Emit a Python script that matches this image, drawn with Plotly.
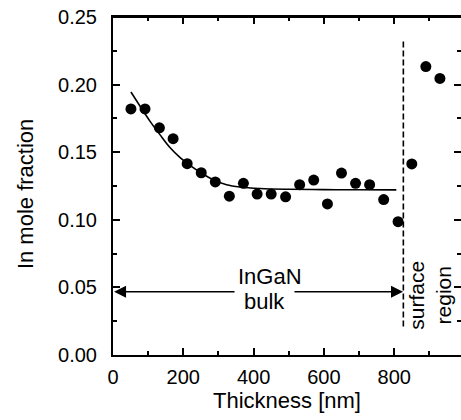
import plotly.graph_objects as go

# Measured points (thickness in nm, In mole fraction)
thickness = [51, 91, 132, 171, 211, 251, 291, 331, 371, 410, 450, 491, 531,
             571, 610, 650, 690, 730, 770, 811, 850, 890, 930]
fraction = [0.182, 0.182, 0.168, 0.160, 0.1415, 0.1348, 0.128, 0.1175, 0.127,
            0.119, 0.119, 0.117, 0.126, 0.1294, 0.1117, 0.1346, 0.127, 0.126,
            0.115, 0.0986, 0.1413, 0.2133, 0.2046]

# Fit curve
fit_x = [51, 77, 105, 134, 162, 191, 220, 250, 285, 323, 361, 418, 500, 600, 700, 806]
fit_y = [0.1945, 0.184, 0.173, 0.1628, 0.1535, 0.146, 0.140, 0.1348, 0.1297,
         0.126, 0.1243, 0.1232, 0.1226, 0.1223, 0.1222, 0.1221]

# Boundary between bulk and surface region
boundary_x = [826, 826]
boundary_y = [0.021, 0.232]

# Arrow geometry (data units)
arrow_y = 0.0468
arrow_left = 3
arrow_gap_left = 350
arrow_gap_right = 512
arrow_right = 825

FONT = "Liberation Sans, Arial, Helvetica, sans-serif"

fig = go.Figure()
fig.add_trace(go.Scatter(x=fit_x, y=fit_y, mode="lines", line=dict(color="black", width=1.6, shape="spline"),
                         showlegend=False, hoverinfo="skip"))
fig.add_trace(go.Scatter(x=boundary_x, y=boundary_y, mode="lines",
                         line=dict(color="black", width=1.6, dash="6px,3px"), showlegend=False))
fig.add_trace(go.Scatter(x=thickness, y=fraction, mode="markers",
                         marker=dict(color="black", size=11), showlegend=False))

# arrows
fig.add_annotation(x=arrow_left, y=arrow_y, ax=arrow_gap_left, ay=arrow_y, xref="x", yref="y",
                   axref="x", ayref="y", text="", showarrow=True, arrowhead=2, arrowsize=1.5,
                   arrowwidth=1.6, arrowcolor="black", standoff=0, startstandoff=0)
fig.add_annotation(x=arrow_right, y=arrow_y, ax=arrow_gap_right, ay=arrow_y, xref="x", yref="y",
                   axref="x", ayref="y", text="", showarrow=True, arrowhead=2, arrowsize=1.5,
                   arrowwidth=1.6, arrowcolor="black", standoff=0, startstandoff=0)
fig.add_annotation(x=447, y=0.0584, text="InGaN", showarrow=False, xref="x", yref="y",
                   font=dict(family=FONT, size=22, color="black"))
fig.add_annotation(x=430, y=0.0395, text="bulk", showarrow=False, xref="x", yref="y",
                   font=dict(family=FONT, size=22, color="black"))
fig.add_annotation(x=901, y=0.0444, text="surface<br>region", showarrow=False, xref="x", yref="y",
                   textangle=-90, font=dict(family=FONT, size=21, color="black"))

# axis titles as paper annotations
fig.add_annotation(x=0.5, y=0, xref="paper", yref="paper", yanchor="middle", yshift=-45,
                   text="Thickness [nm]", showarrow=False,
                   font=dict(family=FONT, size=22, color="black"))
fig.add_annotation(x=0, y=0.476, xref="paper", yref="paper", xanchor="center", xshift=-88,
                   text="In mole fraction", showarrow=False, textangle=-90,
                   font=dict(family=FONT, size=22, color="black"))

# top frame edge
fig.add_shape(type="line", xref="paper", yref="paper", x0=0, x1=1, y0=1, y1=1,
              line=dict(color="black", width=2), layer="above")

axis_common = dict(showline=True, linewidth=2, linecolor="black", mirror="ticks",
                   ticks="inside", ticklen=7, tickwidth=1.6, tickcolor="black",
                   showgrid=False, zeroline=False, automargin=False,
                   ticklabeloverflow="allow",
                   tickfont=dict(family=FONT, size=20, color="black"))

fig.update_xaxes(range=[0, 990], dtick=200, tick0=0,
                 minor=dict(dtick=100, ticks="inside", ticklen=4, tickwidth=1.6, tickcolor="black", showgrid=False),
                 ticklabelstandoff=3,
                 **axis_common)
fig.update_yaxes(range=[0, 0.25], dtick=0.05, tick0=0, tickformat=".2f",
                 minor=dict(dtick=0.025, ticks="inside", ticklen=4, tickwidth=1.6, tickcolor="black", showgrid=False),
                 ticklabelstandoff=10,
                 **axis_common)

fig.update_layout(width=461, height=420, margin=dict(l=113, r=0, t=17, b=65),
                  paper_bgcolor="white", plot_bgcolor="white")

# remove the default 8px page margin so the figure fills the window exactly
fig.write_html("out.html", config={"displayModeBar": False},
               post_script="document.body.style.margin='0';document.body.style.overflow='hidden';")
